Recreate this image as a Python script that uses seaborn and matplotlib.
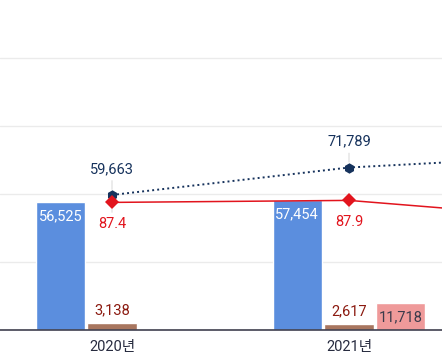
import numpy as np
import pandas as pd
import matplotlib
matplotlib.use('Agg')
import matplotlib.pyplot as plt
import seaborn as sns

# --- data (2022년 is only partly in view: its bars are off the right edge) ---
years = ['2020년', '2021년', '2022년']
bar_series = ['계열1', '계열2', '계열3']
bar1_values = [56525, 57454, np.nan]
bar2_values = [3138, 2617, np.nan]
bar3_values = [np.nan, 11718, np.nan]
dot_values = [59663, 71789, 77300]     # dotted navy line, same axis as bars
rate_values = [87.4, 87.9, 83.1]       # red line, secondary axis

bar_colors = ['#5b8ede', '#a8765f', '#ef9a9a']
label_colors = ['white', '#8b1a10', '#3b3b4b']
navy = '#16325c'
red = '#e2141d'

rows = []
for name, vals in zip(bar_series, [bar1_values, bar2_values, bar3_values]):
    for y, v in zip(years, vals):
        rows.append({'year': y, 'series': name, 'value': v})
df = pd.DataFrame(rows)

sns.set_style('white')
plt.rcParams['font.family'] = ['Roboto', 'Noto Sans CJK KR', 'DejaVu Sans']

fig = plt.figure(figsize=(4.42, 3.63), dpi=100)
ax = fig.add_axes([0, 33 / 363, 1, 330 / 363])

sns.barplot(data=df, x='year', y='value', hue='series', order=years,
            hue_order=bar_series, palette=bar_colors, saturation=1,
            width=0.654, gap=0.05, errorbar=None, legend=False, ax=ax, zorder=2)

# value labels on bars: blue and pink inside the top, brown above
for cont, lc in zip(ax.containers, label_colors):
    for p in cont:
        h = p.get_height()
        if not np.isfinite(h) or h == 0:
            continue
        inside = lc != '#8b1a10'
        ax.annotate(f'{h:,.0f}', xy=(p.get_x() + p.get_width() / 2, h),
                    xytext=(0, -10 if inside else 9.4), textcoords='offset points',
                    ha='center', va='center', fontsize=10.5, color=lc, zorder=5)

# dotted line on the primary axis
idx = np.arange(len(years))
sns.lineplot(x=idx, y=dot_values, ax=ax, color=navy, lw=1.4,
             linestyle=(0, (1, 1.6)), marker='h', markersize=7.5,
             markeredgewidth=0, zorder=4)
for i, v in zip(idx, dot_values):
    ax.annotate(f'{v:,}', xy=(i, v), xytext=(0, 18.7), textcoords='offset points',
                ha='center', va='center', fontsize=10.5, color=navy,
                arrowprops=dict(arrowstyle='-', color='#dcdcdc', lw=0.8,
                                shrinkA=1, shrinkB=4))

ax.set_xlim(-112 / 237, 330 / 237)
ax.set_ylim(0, 145800)
ax.set_yticks([0, 30000, 60000, 90000, 120000])
ax.set_yticklabels([])
ax.grid(axis='y', color='#ebebeb', lw=1)
ax.set_axisbelow(True)
ax.set_xlabel('')
ax.set_ylabel('')
ax.tick_params(axis='x', length=0, pad=7, labelsize=10.5, labelcolor='#272b3f')
ax.tick_params(axis='y', length=0)
for s in ['left', 'right', 'top']:
    ax.spines[s].set_visible(False)
ax.spines['bottom'].set_color('#40404f')
ax.spines['bottom'].set_linewidth(1.2)

# red line on its own hidden axis
ax2 = ax.twinx()
sns.lineplot(x=idx, y=rate_values, ax=ax2, color=red, lw=1.1,
             marker='D', markersize=7.5, markeredgewidth=0, zorder=4)
for i, v in zip(idx, rate_values):
    ax2.annotate(f'{v}', xy=(i, v), xytext=(0, -15.5), textcoords='offset points',
                 ha='center', va='center', fontsize=10.5, color=red,
                 arrowprops=dict(arrowstyle='-', color='#dcdcdc', lw=0.8,
                                 shrinkA=1, shrinkB=5))
ax2.set_ylim(55.5, 138)
ax2.set_xlim(ax.get_xlim())
ax2.axis('off')

fig.savefig('out.png', dpi=100)
